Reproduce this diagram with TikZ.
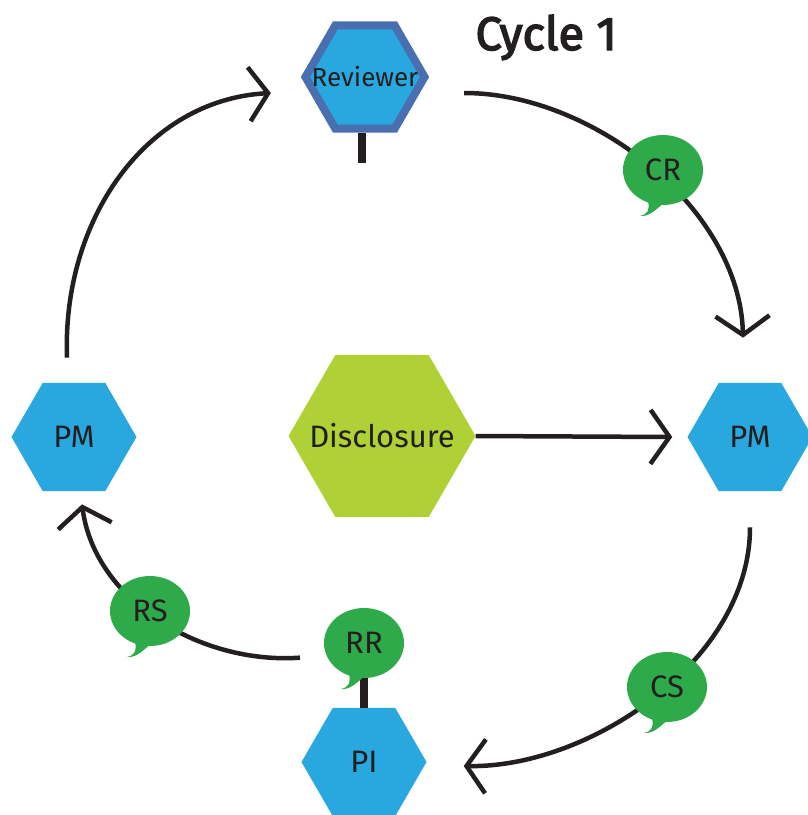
\documentclass[tikz,border=0pt]{standalone}
\usepackage{fontspec}
\setmainfont{Fira Sans}
\newfontfamily\titlefont{Fira Sans}[FakeBold=3]
\usetikzlibrary{positioning,arrows.meta,shapes.geometric,calc}
\definecolor{hexblue}{HTML}{29A8E0}
\definecolor{revborder}{HTML}{4A6FB0}
\definecolor{discgreen}{HTML}{AFD136}
\definecolor{bubgreen}{HTML}{2EAA4A}
\definecolor{ink}{HTML}{231F20}
\tikzset{
  hexnode/.style={regular polygon,regular polygon sides=6,minimum size=125pt,
            inner sep=0pt,fill=hexblue,
            label={[text=ink,font=\fontsize{31}{31}\selectfont]center:#1}},
  hexreview/.style={regular polygon,regular polygon sides=6,minimum size=119pt,
            inner sep=0pt,fill=hexblue,draw=revborder,line width=8pt,
            label={[text=ink,font=\fontsize{26}{26}\selectfont]center:#1}},
  hexdisc/.style={hexnode=#1,minimum size=187pt,fill=discgreen},
  bubble/.style={ellipse,minimum width=80pt,minimum height=70pt,inner sep=0pt,
            fill=bubgreen,text=ink,font=\fontsize{31}{31}\selectfont},
  flow/.style={-{Straight Barb[length=19pt,width=54pt]},line width=4.5pt,draw=ink},
  stemline/.style={line width=8pt,draw=ink},
}
\begin{document}
\begin{tikzpicture}[x=1pt,y=-1pt]
  \useasboundingbox (0,0) rectangle (808,815);
  % hexagons
  \node[hexreview=Reviewer] (rev) at (365,77) {};
  \node[hexnode=PM] (pmr) at (750,437) {};
  \node[hexnode=PM] (pml) at (74,437) {};
  \node[hexnode=PI] (pi) at (364,762) {};
  \node[hexdisc=Disclosure] (disc) at (382,436) {};
  \node[anchor=base west,text=ink,font=\titlefont\fontsize{47}{47}\selectfont] (title) at (472,50) {Cycle 1};
  % cycle arrows
  \draw[flow] ($(rev.east)+(35,16)$) .. controls +(130,0) and +(-3,-128) .. ($(pmr.north)+(-7,-45)$);
  \draw[flow] ($(pmr.south)+(0,36)$) .. controls +(0,133) and +(126,2) .. ($(pi.east)+(37,4)$);
  \draw[flow] ($(pi.north)+(-64,-50)$) .. controls +(-100,7) and +(13,96) .. ($(pml.south)+(8,13)$);
  \draw[flow] ($(pml.north)+(-7,-25)$) .. controls +(-5,-138) and +(-125,7) .. ($(rev.west)+(-30,16)$);
  \draw[flow] (disc.east) -- ($(pmr.west)+(-15,0)$);
  % stems
  \coordinate (revstem) at (362,163);
  \draw[stemline] (rev.south -| revstem) -- (revstem);
  % speech bubbles
  \node[bubble] (cr) at (663,170) {CR};
  \node[bubble] (cs) at (667,687) {CS};
  \node[bubble] (rs) at (150,611) {RS};
  \node[bubble] (rr) at (364,643) {RR};
  \draw[stemline] (rr.south) -- (pi.north);
  \foreach \b in {cr,cs,rs,rr}
    \fill[bubgreen] ($(\b)+(-15,31)$) .. controls +(2,9) and +(8,-2) .. ($(\b)+(-23,46)$)
      .. controls +(10,1) and +(-6,4) .. ($(\b)+(0,34)$) -- cycle;
\end{tikzpicture}
\end{document}
